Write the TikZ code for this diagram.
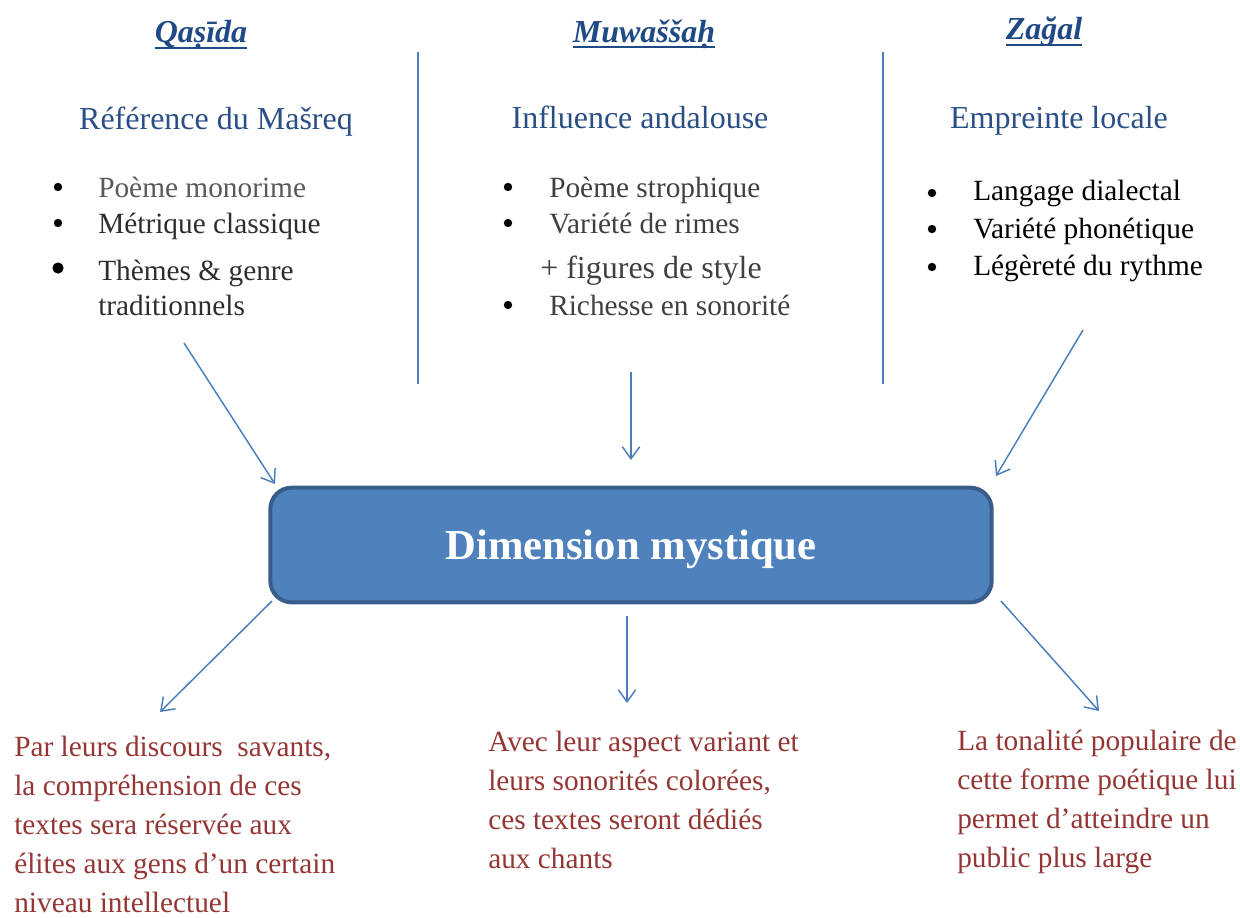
\documentclass[tikz,border=0pt]{standalone}
\usepackage{fontspec}
\setmainfont{Liberation Serif}
\usetikzlibrary{arrows.meta,calc}

\definecolor{titleblue}{HTML}{1F4A85}
\definecolor{subblue}{HTML}{2A4F86}
\definecolor{lineblue}{HTML}{4A7EBB}
\definecolor{boxfill}{HTML}{4F81BD}
\definecolor{boxdraw}{HTML}{385D8A}
\definecolor{redtext}{HTML}{943634}
\definecolor{greyA}{HTML}{595959}
\definecolor{greyB}{HTML}{2E2E2E}
\definecolor{greyC}{HTML}{404040}

\begin{document}
\begin{tikzpicture}[x=0.75pt,y=0.75pt,yscale=-1,xscale=1,
    titre/.style={anchor=base,inner sep=0pt,text=titleblue,font=\fontsize{24pt}{28pt}\selectfont\bfseries\itshape},
    uline/.style={draw=titleblue,line width=1.9pt},
    soustitre/.style={anchor=base,inner sep=0pt,text=subblue,font=\fontsize{24pt}{28pt}\selectfont},
    item/.style={anchor=base west,inner sep=0pt,font=\fontsize{22pt}{29pt}\selectfont},
    puce/.style={fill=black},
    sep/.style={draw=lineblue,line width=1.5pt},
    arr/.style={draw=lineblue,line width=1.1pt,-{Straight Barb[length=9pt,width=13pt]}},
    bigbox/.style={draw=boxdraw,fill=boxfill,line width=3pt,rounded corners=16pt,minimum width=541pt,minimum height=86pt,text depth=0pt,text=white,font=\fontsize{32pt}{36pt}\selectfont\bfseries},
    bas/.style={anchor=north west,inner sep=0pt,align=left,text=redtext,font=\fontsize{22pt}{29.3pt}\selectfont}]
\useasboundingbox (0,0) rectangle (1240,918);

% Titles
\node[titre] (qasida) at (201,42) {Qaṣīda};
\draw[uline] ($(qasida.base west)+(0,6)$) -- ($(qasida.base east)+(0,6)$);
\node[titre] (muwassah) at (644,42) {Muwaššaḥ};
\draw[uline] ($(muwassah.base west)+(0,5)$) -- ($(muwassah.base east)+(0,5)$);
\node[titre] (zagal) at (1044,39) {Zağal};
\draw[uline] ($(zagal.base west)+(0,6)$) -- ($(zagal.base east)+(0,6)$);

% Separators
\draw[sep] (418,52) -- (418,384);
\draw[sep] (883,52) -- (883,384);

% Sub titles
\node[soustitre] (masreq) at (216,129) {Référence du Mašreq};
\node[soustitre] (andalouse) at (640,128) {Influence andalouse};
\node[soustitre] (locale) at (1059,128) {Empreinte locale};

% Left list
\fill[puce] (58,187) circle (4.2);
\fill[puce] (58,223) circle (4.2);
\fill[puce] (58,268) circle (5.6);
\node[item,text=greyA] (monorime) at (98,197) {Poème monorime};
\node[item,text=greyB] (metrique) at (98,233) {Métrique classique};
\node[item,text=greyB] (themes) at (98,280) {Thèmes \& genre};
\node[item,text=greyB] (tradi) at (98,315) {traditionnels};

% Middle list
\fill[puce] (508,187) circle (4.2);
\fill[puce] (508,223) circle (4.2);
\fill[puce] (508,305) circle (4.2);
\node[item,text=greyC] (strophique) at (549,197) {Poème strophique};
\node[item,text=greyC] (rimes) at (549,233) {Variété de rimes};
\node[item,text=greyC,font=\fontsize{24pt}{29pt}\selectfont] (figures) at (540,278) {+ figures de style};
\node[item,text=greyC] (richesse) at (549,315) {Richesse en sonorité};

% Right list
\fill[puce] (932,193) circle (4.2);
\fill[puce] (932,229) circle (4.2);
\fill[puce] (932,267) circle (4.2);
\node[item] (dialectal) at (973,200) {Langage dialectal};
\node[item] (phonetique) at (973,238) {Variété phonétique};
\node[item] (rythme) at (973,275) {Légèreté du rythme};

% Central box
\node[bigbox] (dim) at (631,545) {Dimension mystique};

% Arrows into the box
\coordinate (qtail) at (184,343);
\coordinate (qhead) at (275,484);
\coordinate (mtail) at (631,372);
\coordinate (mhead) at (631,460);
\coordinate (ztail) at (1083,330);
\coordinate (zhead) at (996,476);
\draw[arr] (qtail) -- (qhead);
\draw[arr] (mtail) -- (mhead);
\draw[arr] (ztail) -- (zhead);

% Bottom texts
\node[bas] (savants) at (14,736) {Par leurs discours~ savants,\\la compréhension de ces\\textes sera réservée aux\\élites aux gens d’un certain\\niveau intellectuel};
\node[bas] (chants) at (488,731) {Avec leur aspect variant et\\leurs sonorités colorées,\\ces textes seront dédiés\\aux chants};
\node[bas] (public) at (957,730) {La tonalité populaire de\\cette forme poétique lui\\permet d’atteindre un\\public plus large};

% Arrows out of the box
\coordinate (stail) at (272,601);
\coordinate (shead) at (160,712);
\coordinate (ctail) at (627,616);
\coordinate (chead) at (627,703);
\coordinate (ptail) at (1001,601);
\coordinate (phead) at (1099,711);
\draw[arr] (stail) -- (shead);
\draw[arr] (ctail) -- (chead);
\draw[arr] (ptail) -- (phead);

\end{tikzpicture}
\end{document}
